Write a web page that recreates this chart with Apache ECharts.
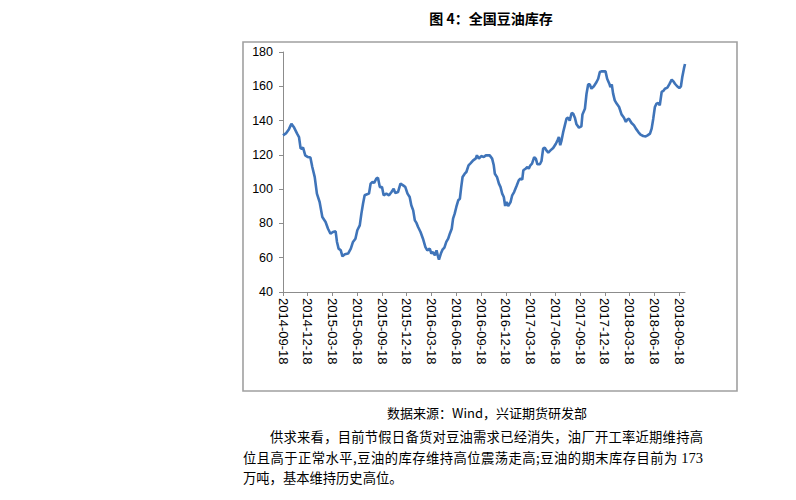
<!DOCTYPE html>
<html>
<head>
<meta charset="utf-8">
<script src="https://cdn.jsdelivr.net/npm/echarts@6/dist/echarts.min.js"></script>
<style>
  html, body { margin: 0; padding: 0; background: #fff; }
  #wrap { position: relative; width: 796px; height: 500px; overflow: hidden; }
  #chart { position: absolute; left: 0; top: 0; width: 796px; height: 500px; }
  .t { position: absolute; font-family: "Noto Sans CJK SC", sans-serif; color: #000; white-space: nowrap; }
  #title { left: 0; width: 982px; top: 8px; text-align: center; font-size: 14px; font-weight: bold; }
  #src { left: 0; width: 974px; top: 403px; text-align: center; font-size: 13px; }
  .line { font-size: 13.3px; line-height: 20px; text-align: justify; text-align-last: justify; }
  #p1 { left: 270px; width: 433px; top: 427px; }
  #p2 { left: 243px; width: 460px; top: 448px; }
  #p3 { left: 243px; top: 468px; text-align: left; text-align-last: left; }
  .num { font-family: "Liberation Serif", serif; font-size: 14.5px; }
</style>
</head>
<body>
<div id="wrap">
  <div id="chart"></div>
  <div class="t" id="title">图 4：全国豆油库存</div>
  <div class="t" id="src">数据来源：Wind，兴证期货研发部</div>
  <div class="t line" id="p1">供求来看，目前节假日备货对豆油需求已经消失，油厂开工率近期维持高</div>
  <div class="t line" id="p2">位且高于正常水平,豆油的库存维持高位震荡走高;豆油的期末库存目前为 <span class="num">173</span></div>
  <div class="t line" id="p3">万吨，基本维持历史高位。</div>
</div>
<script>
const dates = [
'2014-09-18','2014-09-30','2014-10-10','2014-10-19','2014-10-29','2014-11-09','2014-11-16','2014-11-22','2014-12-01','2014-12-09',
'2014-12-19','2014-12-28','2015-01-04','2015-01-13','2015-01-21','2015-01-31','2015-02-10','2015-02-22','2015-03-03','2015-03-12',
'2015-03-21','2015-03-31','2015-04-05','2015-04-11','2015-04-19','2015-04-25','2015-05-04','2015-05-16','2015-05-26','2015-06-03',
'2015-06-12','2015-06-19','2015-06-28','2015-07-04','2015-07-10','2015-07-16','2015-07-25','2015-08-01','2015-08-07','2015-08-14',
'2015-08-20','2015-08-28','2015-09-03','2015-09-10','2015-09-18','2015-09-24','2015-10-04','2015-10-14','2015-10-23','2015-10-31',
'2015-11-06','2015-11-16','2015-11-25','2015-12-05','2015-12-13','2015-12-21','2015-12-29','2016-01-04','2016-01-11','2016-01-17',
'2016-01-23','2016-01-29','2016-02-07','2016-02-16','2016-02-25','2016-03-03','2016-03-12','2016-03-18','2016-03-24','2016-03-31',
'2016-04-06','2016-04-12','2016-04-15','2016-04-22','2016-04-28','2016-05-05','2016-05-12','2016-05-19','2016-05-25','2016-06-01',
'2016-06-06','2016-06-12','2016-06-18','2016-06-25','2016-07-01','2016-07-06','2016-07-11','2016-07-19','2016-07-25','2016-08-02',
'2016-08-10','2016-08-19','2016-08-28','2016-09-02','2016-09-09','2016-09-18','2016-09-27','2016-10-05','2016-10-19','2016-10-28',
'2016-11-03','2016-11-07','2016-11-15','2016-11-22','2016-11-28','2016-12-04','2016-12-10','2016-12-15','2016-12-20','2016-12-26',
'2017-01-04','2017-01-10','2017-01-17','2017-01-26','2017-02-03','2017-02-09','2017-02-16','2017-02-20','2017-02-28','2017-03-07',
'2017-03-12','2017-03-18','2017-03-24','2017-04-01','2017-04-07','2017-04-13','2017-04-22','2017-04-28','2017-05-04','2017-05-10',
'2017-05-16','2017-05-23','2017-05-31','2017-06-10','2017-06-20','2017-06-26','2017-07-01','2017-07-06','2017-07-11','2017-07-17',
'2017-07-23','2017-07-29','2017-08-04','2017-08-10','2017-08-17','2017-08-23','2017-08-29','2017-09-04','2017-09-13','2017-09-22',
'2017-09-26','2017-10-05','2017-10-11','2017-10-17','2017-10-23','2017-10-29','2017-11-07','2017-11-17','2017-11-23','2017-11-29',
'2017-12-05','2017-12-14','2017-12-20','2017-12-26','2018-01-03','2018-01-07','2018-01-12','2018-01-17','2018-01-23','2018-01-30',
'2018-02-08','2018-02-17','2018-02-26','2018-03-05','2018-03-10','2018-03-16','2018-03-26','2018-04-04','2018-04-11','2018-04-20',
'2018-04-28','2018-05-08','2018-05-17','2018-05-24','2018-06-02','2018-06-08','2018-06-14','2018-06-20','2018-06-26','2018-07-02',
'2018-07-08','2018-07-15','2018-07-21','2018-07-27','2018-08-05','2018-08-12','2018-08-21','2018-08-27','2018-09-02','2018-09-10',
'2018-09-18','2018-09-24','2018-09-29','2018-10-05','2018-10-09'
];
const stock = [
131.4,132.7,135,138.2,135.9,132.4,130.4,123.6,124.2,119.7,
118.7,118.4,112.9,107,97.4,92.5,83.7,80.8,76.9,74,
75,75.4,69.2,65.3,64.3,60.8,62,62.4,65.3,69.2,
71.1,76,78.9,85.7,91.5,96.4,97,97.4,103.2,104.2,
103.6,106.1,106.7,101.2,101.2,96.4,97.4,96.4,98.3,100.3,
97.7,98.3,103.2,102.2,101.2,97.4,95.4,90.6,87.6,81.8,
80.3,77.9,75,71.1,66.2,64.3,65.3,62.4,63.3,61.4,
64.3,60.4,58.9,62.4,64.7,65.9,69.2,71.1,74,76.9,
82.8,85.7,89.6,93.5,94.4,101.2,107.1,109,110,113.9,
115.2,116.8,117.8,119.7,117.8,119.3,118.7,119.7,119.7,117.8,
113.9,109,107,103.2,101.2,97.4,95.4,90.2,92.5,90.2,
92.5,96.4,98.3,101.8,105.1,106.1,105.5,111,111.9,112.9,
111.9,113.9,114.9,118.7,117.8,114.5,114.5,116.4,123.6,124.2,
122.6,121.3,122.6,124,126.5,128.5,130.4,125.6,128.5,133.3,
137.2,141.1,141.7,140,144.4,144,141.7,137.8,135.9,136.6,
143.6,146.9,155.7,161.1,161.1,158.6,160,162.5,164.4,168.3,
168.7,168.7,168.7,164.4,161.5,159.5,161.1,155.7,151.8,149.9,
147.9,143.6,141.7,139.2,140.6,141.1,138.6,137.2,135.3,133.3,
131.8,131,130.8,131.4,132.4,135.3,141.1,147.9,149.9,150.3,
148.9,156.7,157.3,158.6,159.2,161.1,163.9,162.9,161.5,160,
159,160,165.4,170.3,173
];
const tickLabels = ['2014-09-18','2014-12-18','2015-03-18','2015-06-18','2015-09-18','2015-12-18','2016-03-18','2016-06-18','2016-09-18','2016-12-18','2017-03-18','2017-06-18','2017-09-18','2017-12-18','2018-03-18','2018-06-18','2018-09-18'];
const yTicks = [40, 60, 80, 100, 120, 140, 160, 180];

function toTs(s) { const p = s.split('-').map(Number); return Date.UTC(p[0], p[1] - 1, p[2]); }
function fmt(v) {
  const d = new Date(v);
  const mm = String(d.getUTCMonth() + 1).padStart(2, '0');
  const dd = String(d.getUTCDate()).padStart(2, '0');
  return d.getUTCFullYear() + '-' + mm + '-' + dd;
}
const tickTs = tickLabels.map(toTs);
const seriesData = dates.map((d, i) => [toTs(d), stock[i]]);

const chart = echarts.init(document.getElementById('chart'), null, { renderer: 'svg' });
chart.setOption({
  animation: false,
  backgroundColor: '#fff',
  graphic: [{
    type: 'rect', shape: { x: 243, y: 42, width: 494, height: 349 },
    style: { fill: 'none', stroke: '#a0a0a0', lineWidth: 1.6 }, silent: true
  }],
  grid: { left: 283, top: 52, width: 402, height: 240, containLabel: false },
  xAxis: {
    type: 'value',
    min: tickTs[0],
    max: toTs(dates[dates.length - 1]),
    splitLine: { show: false },
    axisLine: { lineStyle: { color: '#8c8c8c', width: 1 } },
    axisTick: { show: true, customValues: tickTs, length: 4, lineStyle: { color: '#8c8c8c' } },
    axisLabel: {
      customValues: tickTs,
      rotate: -90,
      margin: 6,
      formatter: function (v) { return fmt(v); },
      fontFamily: 'Liberation Sans, Arial, sans-serif',
      fontSize: 13,
      color: '#000'
    }
  },
  yAxis: {
    type: 'value',
    min: 40, max: 180, interval: 20,
    splitLine: { show: false },
    axisLine: { show: true, lineStyle: { color: '#8c8c8c', width: 1 } },
    axisTick: { show: true, length: 4, lineStyle: { color: '#8c8c8c' } },
    axisLabel: {
      margin: 10,
      fontFamily: 'Liberation Sans, Arial, sans-serif',
      fontSize: 12.5,
      color: '#000'
    }
  },
  series: [{
    type: 'line',
    data: seriesData,
    showSymbol: false,
    symbol: 'none',
    lineStyle: { color: '#3f74b9', width: 2.6 },
    itemStyle: { color: '#3f74b9' }
  }]
});
</script>
</body>
</html>
